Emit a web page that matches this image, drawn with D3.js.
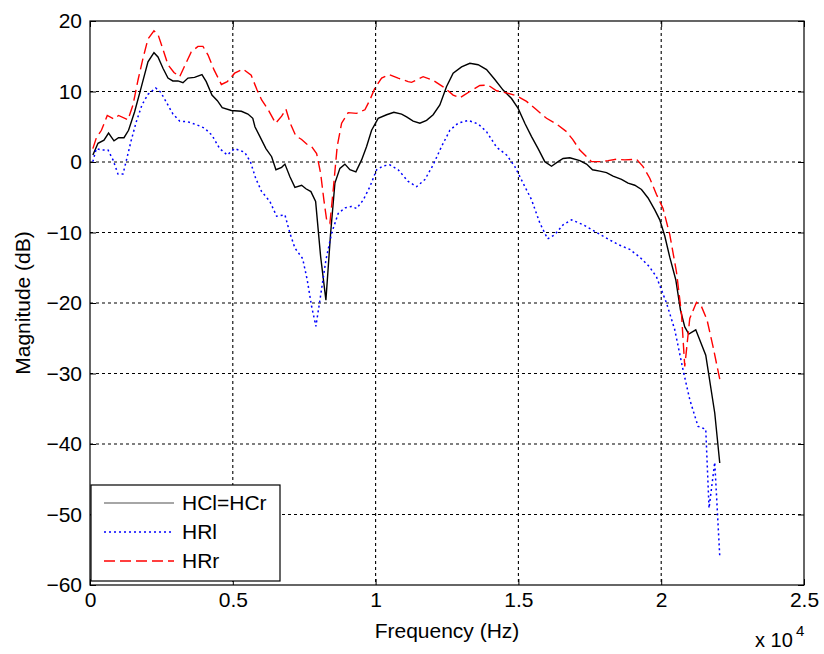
<!DOCTYPE html>
<html>
<head>
<meta charset="utf-8">
<script src="https://cdnjs.cloudflare.com/ajax/libs/d3/7.8.5/d3.min.js"></script>
<style>
  body { margin: 0; background: #fff; }
  svg { display: block; }
  text { font-family: "Liberation Sans", Arial, Helvetica, sans-serif; fill: #000; }
</style>
</head>
<body>
<svg id="chart"></svg>
<script>
// HCl=HCr (black, solid)
var hcFreq = [100,280,490,650,840,1000,1190,1350,1560,1800,2030,2240,2380,2555,2730,2900,3080,3255,3430,3660,3920,4070,4270,4460,4630,4950,5300,5530,5700,5775,5950,6160,6360,6510,6710,6825,7000,7175,7410,7560,7735,7900,8075,8260,8425,8575,8750,8925,9100,9310,9510,9685,9860,10090,10385,10640,10910,11085,11315,11550,11785,12015,12250,12485,12715,13010,13300,13590,13885,14175,14465,14760,14990,15225,15460,15690,15925,16160,16390,16565,16800,17150,17385,17595,17850,18085,18315,18610,18840,19075,19310,19540,19775,19950,20125,20300,20510,20675,20825,20965,21210,21560,21875,22050];
var hcDb = [1.0,2.65,3.1,4.1,3.0,3.45,3.45,4.5,7.1,10.7,14.2,15.5,14.9,13.3,11.9,11.5,11.5,11.25,11.9,12.0,12.4,11.4,9.5,8.7,7.7,7.3,7.2,6.8,6.2,5.0,3.6,1.9,0.75,-1.1,-0.75,-0.3,-2.1,-3.6,-3.3,-3.8,-4.2,-5.6,-13.4,-19.6,-10.1,-3.0,-0.9,-0.3,-1.1,-1.4,0.3,2.2,4.5,6.2,6.7,7.05,6.8,6.4,5.8,5.5,5.9,6.7,8.1,10.7,12.6,13.5,14.0,13.8,13.1,11.7,10.2,9.0,7.6,5.5,3.6,1.9,0.05,-0.6,0.05,0.5,0.6,0.2,-0.3,-1.1,-1.3,-1.5,-2.0,-2.45,-3.0,-3.3,-3.9,-5.1,-6.8,-8.2,-10.5,-13.5,-16.7,-21.0,-23.4,-24.4,-23.8,-27.4,-35.6,-42.7];

// HRl (blue, dotted)
var hrlFreq = [100,220,400,630,805,980,1155,1305,1445,1620,1820,2030,2300,2475,2670,2905,3140,3430,3720,4015,4270,4540,4805,5065,5415,5620,5800,6010,6300,6535,6825,7000,7175,7445,7605,7760,7910,8050,8260,8460,8690,8925,9160,9335,9565,9800,10035,10265,10500,10790,11140,11435,11725,12015,12310,12600,12890,13240,13590,13885,14235,14585,14875,15165,15460,15750,16020,16275,16565,16860,17265,17675,18085,18490,18900,19250,19575,19835,20185,20475,20765,21000,21290,21560,21675,21875,22050];
var hrlDb = [0.05,1.9,1.7,1.7,0.3,-1.7,-1.7,0.75,3.1,5.7,8.1,9.6,10.5,9.9,8.5,6.8,5.8,5.7,5.3,4.8,3.8,1.9,1.0,1.9,1.4,0.0,-2.3,-4.2,-5.6,-7.7,-7.5,-10.1,-12.2,-13.7,-16.7,-20.5,-23.3,-19.6,-13.9,-10.1,-7.3,-6.5,-6.3,-6.6,-5.4,-3.5,-1.1,-0.55,-0.4,-1.1,-2.75,-3.5,-2.5,-0.4,2.2,4.5,5.5,5.9,5.4,4.3,2.1,1.0,-0.65,-3.0,-5.35,-8.65,-10.9,-10.3,-8.9,-8.2,-8.9,-9.85,-10.8,-11.7,-12.4,-13.5,-14.8,-16.3,-20.0,-23.8,-29.5,-33.7,-37.5,-37.9,-49.1,-42.6,-55.9];

// HRr (red, dashed)
var hrrFreq = [100,220,400,605,840,1000,1330,1505,1680,1855,2030,2240,2380,2520,2730,2940,3140,3335,3545,3780,3955,4130,4340,4600,4805,5065,5355,5645,5850,6010,6240,6500,6710,6860,7010,7205,7410,7585,7760,7935,8075,8190,8285,8400,8515,8655,8810,9040,9335,9625,9800,9975,10210,10475,10790,11140,11260,11665,12015,12425,12715,12950,13300,13650,13940,14235,14585,14935,15285,15635,15985,16335,16685,16900,17150,17560,17850,18140,18435,18725,19135,19365,19600,19835,20065,20300,20535,20710,20825,21000,21235,21410,21605,21815,22050];
var hrrDb = [1.9,3.4,4.5,6.6,6.1,6.6,6.0,8.1,11.6,14.7,17.45,18.6,18.1,16.4,13.8,12.7,12.1,13.8,15.6,16.4,16.4,15.2,13.1,11.0,11.4,12.6,13.2,12.3,10.2,8.8,7.4,5.5,6.5,7.5,5.5,3.7,3.2,2.55,2.2,1.2,-1.6,-5.4,-8.2,-8.7,-4.0,2.2,5.5,7.0,6.9,7.4,8.8,10.5,11.9,12.4,11.9,11.4,11.3,12.1,11.6,10.5,9.5,9.1,10.0,10.85,10.9,10.1,9.8,9.4,8.6,7.4,6.2,5.4,4.3,3.2,1.7,0.05,0.05,0.2,0.4,0.3,0.4,-0.65,-2.3,-4.6,-6.6,-10.3,-15.6,-21.5,-29.0,-22.2,-19.9,-20.5,-22.4,-26.2,-30.8];

var xTicks = [0,5000,10000,15000,20000,25000];
var yTicks = [-60,-50,-40,-30,-20,-10,0,10,20];
var seriesNames = ["HCl=HCr", "HRl", "HRr"];

var width = 824, height = 654;
var margin = {top: 21, left: 90, right: 20, bottom: 69};
var plotW = width - margin.left - margin.right;
var plotH = height - margin.top - margin.bottom;

var svg = d3.select("#chart").attr("width", width).attr("height", height);
svg.append("rect").attr("width", width).attr("height", height).attr("fill", "#fff");

var xScale = d3.scaleLinear().domain([0, 25000]).range([0, plotW]);
var yScale = d3.scaleLinear().domain([-60, 20]).range([plotH, 0]);

var g = svg.append("g").attr("transform", "translate(" + margin.left + "," + margin.top + ")");

// grid
g.append("g").selectAll("line").data(xTicks.slice(1, -1)).enter().append("line")
  .attr("x1", function(d){ return xScale(d) }).attr("x2", function(d){ return xScale(d) })
  .attr("y1", 0).attr("y2", plotH)
  .attr("stroke", "#000").attr("stroke-width", 1.1).attr("stroke-dasharray", "3,3");
g.append("g").selectAll("line").data(yTicks.slice(1, -1)).enter().append("line")
  .attr("y1", function(d){ return yScale(d) }).attr("y2", function(d){ return yScale(d) })
  .attr("x1", 0).attr("x2", plotW)
  .attr("stroke", "#000").attr("stroke-width", 1.1).attr("stroke-dasharray", "3,3");

// axes, ticks pointing inward
var fmtX = function(d){ return String(d / 1e4) };
var axB = g.append("g").attr("transform", "translate(0," + plotH + ")")
  .call(d3.axisBottom(xScale).tickValues(xTicks).tickFormat(fmtX).tickSize(-6).tickSizeOuter(0).tickPadding(7));
var axT = g.append("g")
  .call(d3.axisTop(xScale).tickValues(xTicks).tickFormat("").tickSize(-6).tickSizeOuter(0));
var axL = g.append("g")
  .call(d3.axisLeft(yScale).tickValues(yTicks).tickSize(-6).tickSizeOuter(0).tickPadding(8));
var axR = g.append("g").attr("transform", "translate(" + plotW + ",0)")
  .call(d3.axisRight(yScale).tickValues(yTicks).tickFormat("").tickSize(-6).tickSizeOuter(0));

[axB, axT, axL, axR].forEach(function(a){
  a.select(".domain").remove();
  a.selectAll("line").attr("stroke", "#000");
  a.selectAll("text").attr("font-size", 21).attr("font-family", "Liberation Sans, Arial, sans-serif").attr("fill", "#000");
});

// lines
var clip = svg.append("clipPath").attr("id", "clip").append("rect").attr("width", plotW).attr("height", plotH);
var lineGen = d3.line()
  .x(function(d){ return xScale(d[0]) })
  .y(function(d){ return yScale(d[1]) });

var series = [
  {name: seriesNames[0], f: hcFreq, v: hcDb, color: "#000000", dash: null, w: 1.4},
  {name: seriesNames[1], f: hrlFreq, v: hrlDb, color: "#0000ff", dash: "2,3", w: 1.5},
  {name: seriesNames[2], f: hrrFreq, v: hrrDb, color: "#ff0000", dash: "11,5", w: 1.4}
];

var lineLayer = g.append("g").attr("clip-path", "url(#clip)");
series.forEach(function(s){
  var pts = s.f.map(function(f, i){ return [f, s.v[i]] });
  lineLayer.append("path").datum(pts)
    .attr("d", lineGen)
    .attr("fill", "none")
    .attr("stroke", s.color)
    .attr("stroke-width", s.w)
    .attr("stroke-dasharray", s.dash);
});

// frame
g.append("rect").attr("width", plotW).attr("height", plotH)
  .attr("fill", "none").attr("stroke", "#000").attr("stroke-width", 1.2);

// legend
var leg = g.append("g").attr("transform", "translate(1," + (plotH - 100) + ")");
leg.append("rect").attr("width", 189).attr("height", 96)
  .attr("fill", "#fff").attr("stroke", "#000").attr("stroke-width", 1.2);
series.forEach(function(s, i){
  var yy = 18 + i * 29;
  leg.append("line").attr("x1", 13).attr("x2", 83).attr("y1", yy).attr("y2", yy)
    .attr("stroke", i == 0 ? "#888" : s.color).attr("stroke-width", 1.3).attr("stroke-dasharray", s.dash);
  leg.append("text").attr("x", 91).attr("y", yy + 7).attr("font-size", 21).text(s.name);
});

// axis labels
svg.append("text").attr("x", margin.left + plotW / 2).attr("y", 638)
  .attr("text-anchor", "middle").attr("font-size", 21).text("Frequency (Hz)");
svg.append("text").attr("transform", "translate(30," + (margin.top + plotH / 2) + ") rotate(-90)")
  .attr("text-anchor", "middle").attr("font-size", 21).text("Magnitude (dB)");

// exponent
svg.append("text").attr("x", 755).attr("y", 647).attr("font-size", 20).text("x 10");
svg.append("text").attr("x", 796).attr("y", 636).attr("font-size", 15).text("4");
</script>
</body>
</html>
